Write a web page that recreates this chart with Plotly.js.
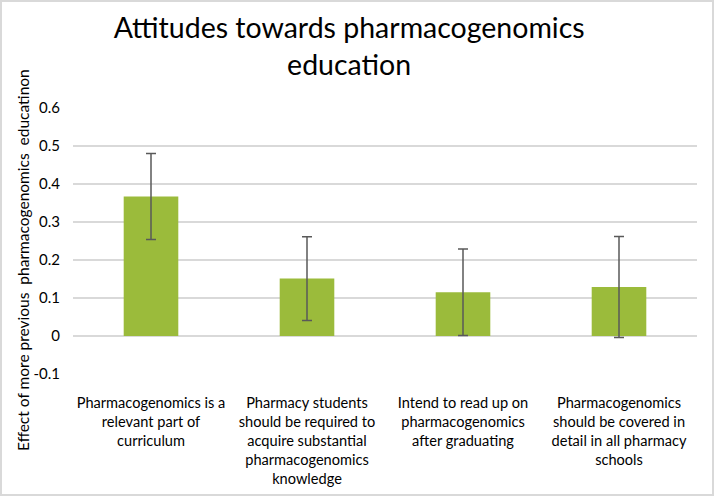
<!DOCTYPE html>
<html>
<head>
<meta charset="utf-8">
<script src="https://cdn.plot.ly/plotly-3.0.1.min.js"></script>
<style>
  html, body { margin: 0; padding: 0; background: #ffffff; }
  #wrap { position: relative; width: 714px; height: 496px; }
  #chart { width: 714px; height: 496px; }
  #frame { position: absolute; left: 0; top: 0; width: 714px; height: 496px; box-sizing: border-box; border: 2px solid #d9d9d9; pointer-events: none; }
</style>
</head>
<body>
<div id="wrap"><div id="chart"></div><div id="frame"></div></div>
<script>
const categories = [
  "Pharmacogenomics is a<br>relevant part of<br>curriculum",
  "Pharmacy students<br>should be required to<br>acquire substantial<br>pharmacogenomics<br>knowledge",
  "Intend to read up on<br>pharmacogenomics<br>after graduating",
  "Pharmacogenomics<br>should be covered in<br>detail in all pharmacy<br>schools"
];
const effects = [0.367, 0.151, 0.115, 0.129];
const errors = [0.113, 0.110, 0.114, 0.133];
const yTickVals = [-0.1, 0, 0.1, 0.2, 0.3, 0.4, 0.5, 0.6];
const yTickText = ["-0.1", "0", "0.1", "0.2", "0.3", "0.4", "0.5", "0.6"];

const FONT = "Lato, 'Open Sans', sans-serif";

const trace = {
  type: "bar",
  x: categories,
  y: effects,
  width: 0.35,
  marker: { color: "#9bbb3b" },
  error_y: { type: "data", array: errors, visible: true, color: "#595959", thickness: 1.5, width: 5 },
  hoverinfo: "none"
};

const layout = {
  width: 714,
  height: 496,
  margin: { l: 73, r: 17, t: 108, b: 122 },
  paper_bgcolor: "#ffffff",
  plot_bgcolor: "#ffffff",
  font: { family: FONT, size: 14, color: "#000000" },
  showlegend: false,
  title: {
    text: "Attitudes towards pharmacogenomics<br>education",
    font: { family: FONT, size: 28.5, color: "#000000" },
    x: 0.489, xref: "container", xanchor: "center",
    y: 0.923, yref: "container", yanchor: "top"
  },
  xaxis: {
    type: "category",
    showgrid: false,
    zeroline: false,
    showline: false,
    ticks: "",
    tickangle: 0,
    tickfont: { family: FONT, size: 14.6, color: "#000000" },
    ticklabelstandoff: 18
  },
  yaxis: {
    range: [-0.1, 0.6],
    tickvals: yTickVals,
    ticktext: yTickText,
    showgrid: true,
    gridcolor: "#d9d9d9",
    gridwidth: 1.5,
    zeroline: true,
    zerolinecolor: "#d9d9d9",
    zerolinewidth: 1.5,
    showline: false,
    ticks: "",
    tickfont: { family: FONT, size: 15, color: "#000000" },
    ticklabelstandoff: 12
  },
  annotations: [{
    text: "Effect of more previous  pharmacogenomics  educatinon",
    textangle: -90,
    xref: "paper", yref: "paper",
    x: -73 / 624, xanchor: "left", xshift: 12,
    y: 0.5, yshift: -19, yanchor: "middle",
    showarrow: false,
    font: { family: FONT, size: 15.5, color: "#000000" }
  }]
};

Plotly.newPlot("chart", [trace], layout, { displayModeBar: false, staticPlot: true });
</script>
</body>
</html>
